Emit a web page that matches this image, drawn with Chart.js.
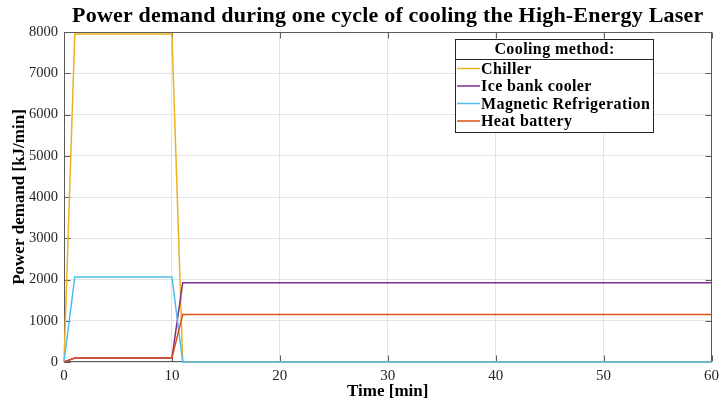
<!DOCTYPE html>
<html>
<head>
<meta charset="utf-8">
<title>Power demand</title>
<script src="https://cdn.jsdelivr.net/npm/chart.js@4.4.1/dist/chart.umd.min.js"></script>
<style>
  html, body { margin: 0; padding: 0; background: #fff; }
  #wrap { width: 724px; height: 405px; }
</style>
</head>
<body>
<div id="wrap"><canvas id="powerChart" width="724" height="405"></canvas></div>
<script>
// time in minutes and power demand in kJ/min for each cooling method
const timeMin = [0, 1, 10, 11, 60];
const chiller = [0, 7950, 7950, 0, 0];
const iceBank = [0, 95, 95, 1920, 1920];
const magnetic = [0, 2060, 2060, 0, 0];
const heatBattery = [0, 100, 100, 1150, 1150];

const seriesNames = ['Chiller', 'Ice bank cooler', 'Magnetic Refrigeration', 'Heat battery'];
const seriesColors = ['#EDB120', '#7E2F8E', '#4DBEEE', '#D95319'];
const xTicks = [0, 10, 20, 30, 40, 50, 60];
const yTicks = [0, 1000, 2000, 3000, 4000, 5000, 6000, 7000, 8000];

const SERIF = "'Liberation Serif', 'DejaVu Serif', serif";
const ctx = document.getElementById('powerChart').getContext('2d');

function toPoints(values) {
  return values.map((v, i) => ({ x: timeMin[i], y: v }));
}

// box around the axes plus small inward tick marks
const axesBox = {
  id: 'axesBox',
  beforeDatasetsDraw(chart) {
    const { ctx, chartArea: a, scales: { x, y } } = chart;
    const L = Math.round(a.left) + 0.5, R = Math.round(a.right) - 0.5;
    const T = Math.round(a.top) + 0.5, B = Math.round(a.bottom) - 0.5;
    ctx.save();
    ctx.strokeStyle = '#5a5a5a';
    ctx.lineWidth = 1;
    ctx.beginPath();
    xTicks.forEach(v => {
      const px = Math.round(x.getPixelForValue(v)) + 0.5;
      ctx.moveTo(px, B); ctx.lineTo(px, B - 6);
      ctx.moveTo(px, T); ctx.lineTo(px, T + 6);
    });
    yTicks.forEach(v => {
      const py = Math.round(y.getPixelForValue(v)) + 0.5;
      ctx.moveTo(L, py); ctx.lineTo(L + 6, py);
      ctx.moveTo(R, py); ctx.lineTo(R - 6, py);
    });
    ctx.stroke();
    ctx.strokeRect(L, T, R - L, B - T);
    ctx.restore();
  }
};

// figure title and the boxed legend with its heading
const annotations = {
  id: 'annotations',
  afterDraw(chart) {
    const { ctx, chartArea: a } = chart;
    ctx.save();
    ctx.fillStyle = '#000';
    ctx.font = 'bold 22px ' + SERIF;
    ctx.textAlign = 'center';
    ctx.textBaseline = 'middle';
    ctx.letterSpacing = '0.2px';
    ctx.fillText('Power demand during one cycle of cooling the High-Energy Laser', (a.left + a.right) / 2, 16);
    ctx.letterSpacing = '0px';

    const bx = 455.5, by = 39.5, bw = 198, bh = 93;
    ctx.fillStyle = '#fff';
    ctx.fillRect(bx, by, bw, bh);
    ctx.strokeStyle = '#262626';
    ctx.lineWidth = 1;
    ctx.strokeRect(bx, by, bw, bh);
    ctx.beginPath();
    ctx.moveTo(bx, 59.5); ctx.lineTo(bx + bw, 59.5);
    ctx.stroke();

    ctx.fillStyle = '#000';
    ctx.font = 'bold 16px ' + SERIF;
    ctx.letterSpacing = '0.4px';
    ctx.fillText('Cooling method:', bx + bw / 2, 50);

    ctx.textAlign = 'left';
    chart.data.datasets.forEach((ds, i) => {
      const ry = 68.5 + i * 17.5;
      ctx.strokeStyle = ds.borderColor;
      ctx.lineWidth = 1.5;
      ctx.beginPath();
      ctx.moveTo(457, ry); ctx.lineTo(480, ry);
      ctx.stroke();
      ctx.fillStyle = '#000';
      ctx.fillText(ds.label, 481, ry + 1);
    });
    ctx.restore();
  }
};

const datasets = [chiller, iceBank, magnetic, heatBattery].map((vals, i) => ({
  label: seriesNames[i],
  data: toPoints(vals),
  borderColor: seriesColors[i],
  backgroundColor: seriesColors[i],
  borderWidth: 1.5,
  pointRadius: 0,
  tension: 0,
  fill: false,
  clip: false,
  order: 4 - i
}));

new Chart(ctx, {
  type: 'line',
  data: { datasets },
  options: {
    responsive: false,
    animation: false,
    devicePixelRatio: 1,
    layout: { padding: { top: 32, right: 8, bottom: 0, left: 0 } },
    plugins: {
      legend: { display: false },
      tooltip: { enabled: false },
      title: { display: false }
    },
    scales: {
      x: {
        type: 'linear',
        min: 0,
        max: 60,
        afterBuildTicks: s => { s.ticks = xTicks.map(v => ({ value: v })); },
        afterFit: s => { s.height = 43; },
        ticks: {
          color: '#262626', font: { family: SERIF, size: 15 }, padding: 5, maxRotation: 0,
          callback: v => String(v)
        },
        grid: { color: '#e3e3e3', drawTicks: false },
        border: { display: false },
        title: {
          display: true,
          text: 'Time [min]',
          color: '#000',
          font: { family: SERIF, size: 17, weight: 'bold' },
          padding: { top: 0, bottom: 3 }
        }
      },
      y: {
        min: 0,
        max: 8000,
        afterBuildTicks: s => { s.ticks = yTicks.map(v => ({ value: v })); },
        afterFit: s => { s.width = 64; },
        ticks: {
          color: '#262626', font: { family: SERIF, size: 14.5 }, padding: 6,
          callback: v => String(v)
        },
        grid: { color: '#e3e3e3', drawTicks: false },
        border: { display: false },
        title: {
          display: true,
          text: 'Power demand [kJ/min]',
          color: '#000',
          font: { family: SERIF, size: 17, weight: 'bold' },
          padding: { top: 9, bottom: 0 }
        }
      }
    }
  },
  plugins: [axesBox, annotations]
});
</script>
</body>
</html>
